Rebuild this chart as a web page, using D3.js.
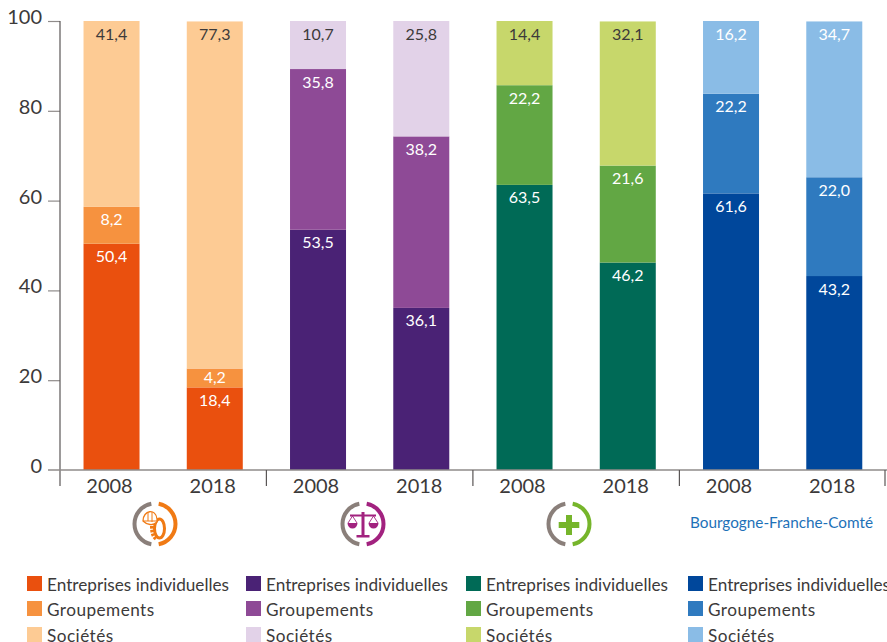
<!DOCTYPE html>
<html><head><meta charset="utf-8">
<script src="https://cdn.jsdelivr.net/npm/d3@7"></script>
<style>html,body{margin:0;padding:0;background:#fff}svg{display:block}text{font-family:Lato,"Open Sans",sans-serif}</style>
</head><body><svg id="c" width="887" height="642"></svg>
<script>
const years = ["2008","2018"];
const groups = ["a","b","c","d"];
const seriesNames = ["Entreprises individuelles","Groupements","Sociétés"];
const individuelles = [50.4,18.4,53.5,36.1,63.5,46.2,61.6,43.2];
const groupements = [8.2,4.2,35.8,38.2,22.2,21.6,22.2,22.0];
const societes = [41.4,77.3,10.7,25.8,14.4,32.1,16.2,34.7];
const palette = [
 ["#ea500e","#f6923f","#fdcb94"],
 ["#4a2275","#8e4a96","#e2d2e8"],
 ["#006a56","#62a744","#c7d76b"],
 ["#00479b","#2f7abf","#8abce6"]];
const labelColors = [["#fff","#fff","#3c3a3a"],["#fff","#fff","#3c3a3a"],["#fff","#fff","#3c3a3a"],["#fff","#fff","#fff"]];
const yTicks = [0,20,40,60,80,100];
const regionLabel = "Bourgogne-Franche-Comté";
const iconColors = ["#f07a14","#a2227f","#76b52b"];

const svg = d3.select("#c");
const y = d3.scaleLinear().domain([0,100]).range([470,21]);
const x0 = d3.scaleBand().domain(groups).range([59.9,885.9]);
const x1 = d3.scaleBand().domain(years).range([0,x0.bandwidth()]).paddingInner(0.4576).paddingOuter(0.2288);
const all = [individuelles,groupements,societes];
const txt = "#3c3a3a";

groups.forEach((g,gi)=>{
  years.forEach((yr,yi)=>{
    const i = gi*2+yi; let acc=0;
    const bx = x0(g)+x1(yr), bw = x1.bandwidth();
    all.forEach((s,si)=>{
      const v=s[i];
      const top=Math.min(acc+v,100);
      const h=y(acc)-y(top);
      svg.append("rect").attr("x",bx).attr("width",bw).attr("y",y(top)).attr("height",h).attr("fill",palette[gi][si]);
      const yOffset = h<25 ? h/2+5.5 : 18.5;
      svg.append("text").attr("x",bx+bw/2).attr("y",y(top)+yOffset).attr("text-anchor","middle")
        .attr("font-size",16).attr("fill",labelColors[gi][si]).text(String(v.toFixed(1)).replace(".",","));
      acc+=v;
    });
  });
});

// axes
const gridCol="#8f8b8a", axisCol="#5a5656";
const axisY = svg.append("g").attr("transform","translate(60,0)").call(d3.axisLeft(y).tickValues(yTicks).tickSize(12).tickFormat(d=>d));
axisY.selectAll("path,line").attr("stroke",gridCol).attr("stroke-width",1.2);
axisY.select("path").remove();
axisY.selectAll("line").filter(d=>d===0).remove();
axisY.selectAll("text").attr("font-size",20).attr("fill",txt).attr("x",-18).attr("dy","0.12em");
svg.append("line").attr("x1",60).attr("x2",60).attr("y1",y(100)).attr("y2",486).attr("stroke",axisCol).attr("stroke-width",1.2);
svg.append("line").attr("x1",48).attr("x2",887).attr("y1",y(0)).attr("y2",y(0)).attr("stroke",gridCol).attr("stroke-width",1.6);
groups.forEach((g,gi)=>{
  if(gi>0) svg.append("line").attr("x1",x0(g)).attr("x2",x0(g)).attr("y1",470).attr("y2",486).attr("stroke",axisCol).attr("stroke-width",1.2);
  years.forEach(yr=>svg.append("text").attr("x",x0(g)+x1(yr)+x1.bandwidth()/2-2).attr("y",493).attr("text-anchor","middle").attr("font-size",20).attr("fill",txt).text(yr));
});
svg.append("line").attr("x1",885).attr("x2",885).attr("y1",470).attr("y2",486).attr("stroke",axisCol).attr("stroke-width",1.2);

// pictograms
const arc = d3.arc().innerRadius(18.5).outerRadius(22.5);
[155,363,569].forEach((cx,i)=>{
  const g = svg.append("g").attr("transform",`translate(${cx},524)`);
  g.append("path").attr("d",arc({startAngle:-Math.PI+0.18,endAngle:-0.18})).attr("fill","#8a7f7a");
  g.append("path").attr("d",arc({startAngle:0.18,endAngle:Math.PI-0.18})).attr("fill",iconColors[i]);
  const c=iconColors[i];
  if(i===0){
    g.append("ellipse").attr("cx",4.5).attr("cy",4.5).attr("rx",5).attr("ry",9.5).attr("fill","none").attr("stroke",c).attr("stroke-width",3);
    g.append("path").attr("d","M-3,2 Q-3,13 2,15").attr("fill","none").attr("stroke",c).attr("stroke-width",4).attr("stroke-dasharray","2.5 1.2");
    g.append("path").attr("d","M-12,-3 C-12,-14 1,-16 2,-5 L2,-2 C-2,2 -8,1 -12,-3 Z").attr("fill","#fff").attr("stroke",c).attr("stroke-width",1.3);
    g.append("path").attr("d","M-7,-11 V-3 M-3,-12 V-2 M-12,-3 L2,-3").attr("stroke",c).attr("stroke-width",1).attr("fill","none");
  } else if(i===1){
    g.append("path").attr("d","M-10.5,-8 L-15,-1 M-10.5,-8 L-6,-1 M10.5,-8 L6,-1 M10.5,-8 L15,-1").attr("stroke",c).attr("stroke-width",0.9).attr("fill","none");
    g.append("path").attr("d","M-1.5,-12 H1.5 V11 H-1.5 Z M-6.5,11 H6.5 V13.5 H-6.5 Z M-13,-9.5 H13 V-7.5 H-13 Z").attr("fill",c);
    g.append("path").attr("d","M-15.5,-1 H-5.5 A5,5.5 0 0 1 -15.5,-1 Z M5.5,-1 H15.5 A5,5.5 0 0 1 5.5,-1 Z").attr("fill",c);
  } else {
    g.append("path").attr("d","M-3,-9 H3 V-2 H10.3 V4 H3 V11 H-3 V4 H-10.3 V-2 H-3 Z").attr("fill",c);
  }
});
svg.append("text").attr("x",690).attr("y",528).attr("font-size",15.3).attr("fill","#1d71b8").text(regionLabel);

// legend
const legendX=[27,246,466,688], legendY=[576,601,627];
const legendSpacing=[0,0.45,0.45];
groups.forEach((g,gi)=>{
  seriesNames.forEach((n,si)=>{
    svg.append("rect").attr("x",legendX[gi]).attr("y",legendY[si]).attr("width",15).attr("height",15).attr("fill",palette[gi][si]);
    svg.append("text").attr("x",legendX[gi]+20).attr("y",legendY[si]+14.5).attr("font-size",17.2).attr("letter-spacing",legendSpacing[si]).attr("fill",txt).text(n);
  });
});
</script></body></html>
